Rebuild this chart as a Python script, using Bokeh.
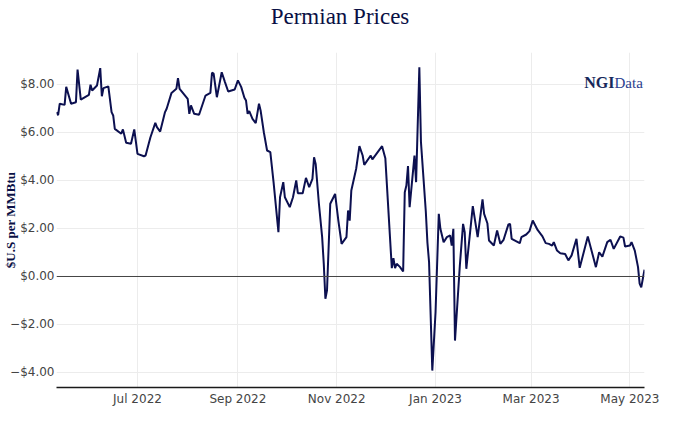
import pandas as pd
from bokeh.plotting import figure
from bokeh.layouts import column
from bokeh.models import Range1d, FixedTicker, DatetimeTickFormatter, Span, Label, ColumnDataSource, Div
from bokeh.embed import file_html
from bokeh.resources import INLINE

dates = [
    "2022-05-12", "2022-05-13", "2022-05-14", "2022-05-17", "2022-05-18", "2022-05-21", "2022-05-24",
    "2022-05-25", "2022-05-27", "2022-06-01", "2022-06-02", "2022-06-03", "2022-06-06", "2022-06-08",
    "2022-06-09", "2022-06-10", "2022-06-13", "2022-06-15", "2022-06-16", "2022-06-17", "2022-06-21",
    "2022-06-22", "2022-06-24", "2022-06-27", "2022-06-29", "2022-07-01", "2022-07-05", "2022-07-06",
    "2022-07-08", "2022-07-09", "2022-07-12", "2022-07-13", "2022-07-15", "2022-07-18", "2022-07-19",
    "2022-07-22", "2022-07-25", "2022-07-26", "2022-07-27", "2022-08-01", "2022-08-02", "2022-08-03",
    "2022-08-05", "2022-08-08", "2022-08-12", "2022-08-15", "2022-08-16", "2022-08-17", "2022-08-19",
    "2022-08-22", "2022-08-24", "2022-08-26", "2022-08-30", "2022-09-01", "2022-09-03", "2022-09-05",
    "2022-09-06", "2022-09-07", "2022-09-08", "2022-09-10", "2022-09-12", "2022-09-14", "2022-09-15",
    "2022-09-17", "2022-09-19", "2022-09-21", "2022-09-23", "2022-09-26", "2022-09-27", "2022-09-29",
    "2022-09-30", "2022-10-03", "2022-10-05", "2022-10-07", "2022-10-08", "2022-10-11", "2022-10-13",
    "2022-10-15", "2022-10-17", "2022-10-18", "2022-10-19", "2022-10-21", "2022-10-23", "2022-10-24",
    "2022-10-25", "2022-10-26", "2022-10-28", "2022-10-31", "2022-11-02", "2022-11-04", "2022-11-07",
    "2022-11-08", "2022-11-09", "2022-11-10", "2022-11-13", "2022-11-15", "2022-11-17", "2022-11-18",
    "2022-11-22", "2022-11-23", "2022-11-29", "2022-12-01", "2022-12-05", "2022-12-06", "2022-12-07",
    "2022-12-08", "2022-12-10", "2022-12-12", "2022-12-13", "2022-12-14", "2022-12-15", "2022-12-16",
    "2022-12-19", "2022-12-20", "2022-12-22", "2022-12-23", "2022-12-26", "2022-12-27", "2022-12-28",
    "2022-12-30", "2023-01-01", "2023-01-03", "2023-01-04", "2023-01-06", "2023-01-08", "2023-01-10",
    "2023-01-11", "2023-01-12", "2023-01-13", "2023-01-16", "2023-01-18", "2023-01-19", "2023-01-20",
    "2023-01-24", "2023-01-27", "2023-01-30", "2023-01-31", "2023-02-02", "2023-02-03", "2023-02-06",
    "2023-02-08", "2023-02-10", "2023-02-12", "2023-02-15", "2023-02-16", "2023-02-17", "2023-02-22",
    "2023-02-23", "2023-02-26", "2023-02-28", "2023-03-02", "2023-03-05", "2023-03-08", "2023-03-10",
    "2023-03-12", "2023-03-14", "2023-03-15", "2023-03-17", "2023-03-19", "2023-03-22", "2023-03-24",
    "2023-03-26", "2023-03-29", "2023-03-31", "2023-04-05", "2023-04-10", "2023-04-12", "2023-04-14",
    "2023-04-17", "2023-04-19", "2023-04-21", "2023-04-25", "2023-04-27", "2023-04-28", "2023-05-01",
    "2023-05-02", "2023-05-04", "2023-05-06", "2023-05-07", "2023-05-08", "2023-05-10",
]
prices = [
    6.85, 6.72, 7.20, 7.15, 7.90, 7.20, 7.26,
    8.62, 7.37, 7.57, 7.99, 7.75, 7.96, 8.68,
    7.51, 7.85, 7.92, 6.85, 6.71, 6.15, 5.95,
    6.13, 5.57, 5.53, 6.13, 5.11, 5.01, 5.04,
    5.55, 5.80, 6.40, 6.22, 6.04, 6.85, 6.99,
    7.65, 7.82, 8.26, 7.82, 7.40, 6.78, 7.13,
    6.78, 6.74, 7.54, 7.65, 8.49, 8.45, 7.47,
    8.51, 8.10, 7.71, 7.79, 8.17, 7.90, 7.45,
    7.33, 6.78, 6.89, 6.57, 6.39, 7.20, 6.92,
    6.01, 5.25, 5.18, 3.93, 1.85, 3.30, 3.93,
    3.30, 2.89, 3.30, 4.00, 3.47, 3.47, 4.11,
    3.72, 4.07, 4.97, 4.69, 3.03, 1.64, 0.53,
    -0.93, -0.58, 3.03, 3.44, 2.33, 1.36, 1.64,
    2.75, 2.33, 3.58, 4.49, 5.43, 5.04, 4.65,
    5.04, 4.88, 5.43, 4.93, 0.35, 0.76, 0.35,
    0.53, 0.40, 0.21, 3.51, 3.79, 4.60, 2.89,
    5.04, 3.93, 8.72, 5.60, 2.70, 1.40, 0.60,
    -3.92, -1.49, 2.61, 1.99, 1.43, 1.64, 1.71,
    1.29, 1.99, -2.67, 0.46, 2.19, 1.85, 0.32,
    2.93, 1.64, 3.21, 2.61, 2.22, 1.50, 1.29,
    1.92, 1.36, 1.53, 2.17, 2.19, 1.57, 1.39,
    1.64, 1.75, 1.89, 2.33, 1.94, 1.67, 1.39,
    1.36, 1.29, 1.43, 1.08, 0.97, 0.94, 0.67,
    0.88, 1.57, 0.36, 1.67, 0.39, 1.01, 0.83,
    1.43, 1.53, 1.15, 1.67, 1.62, 1.25, 1.29,
    1.43, 1.08, 0.39, -0.30, -0.45, 0.28,
]

y_ticks = [-4, -2, 0, 2, 4, 6, 8]
y_tick_labels = ["\u2212$4.00", "\u2212$2.00", "$0.00", "$2.00", "$4.00", "$6.00", "$8.00"]
x_tick_dates = ["2022-07-01", "2022-09-01", "2022-11-01", "2023-01-01", "2023-03-01", "2023-05-01"]

dt = pd.to_datetime(dates)
src = ColumnDataSource(dict(x=dt, y=prices))

navy = "#0c1050"

title_div = Div(
    text="Permian Prices", width=680, height=34, margin=(0, 0, 0, 0),
    styles={"font-family": "'Liberation Serif', serif", "font-size": "23px",
            "color": "#0a1045", "text-align": "center", "line-height": "34px",
            "width": "680px"})

p = figure(width=668, height=377, x_axis_type="datetime", output_backend="svg",
           toolbar_location=None, title=None, margin=(0, 0, 0, 0),
           min_border_left=55, min_border_right=24, min_border_top=18, min_border_bottom=24,
           x_range=Range1d(dt[0], dt[-1]), y_range=Range1d(-4.625, 9.333))
p.outline_line_color = None
p.background_fill_color = "white"
p.border_fill_color = "white"

tick_ms = [pd.Timestamp(d).value / 1e6 for d in x_tick_dates]
p.xaxis.ticker = FixedTicker(ticks=tick_ms)
p.xaxis.formatter = DatetimeTickFormatter(days="%b %Y", months="%b %Y", years="%b %Y")
p.xaxis.major_tick_line_color = None
p.xaxis.minor_tick_line_color = None
p.xaxis.major_tick_out = 0
p.xaxis.major_label_standoff = 4
p.xaxis.axis_line_color = "#1a1a1a"
p.xaxis.axis_line_width = 1.6
p.xaxis.major_label_text_font = "DejaVu Sans"
p.xaxis.major_label_text_font_size = "12px"
p.xaxis.major_label_text_color = "#444444"

p.yaxis.ticker = FixedTicker(ticks=y_ticks)
p.yaxis.major_label_overrides = {t: l for t, l in zip(y_ticks, y_tick_labels)}
p.yaxis.axis_line_color = None
p.yaxis.major_tick_line_color = None
p.yaxis.minor_tick_line_color = None
p.yaxis.major_tick_out = 0
p.yaxis.major_label_standoff = 2
p.yaxis.major_label_text_font = "DejaVu Sans"
p.yaxis.major_label_text_font_size = "12px"
p.yaxis.major_label_text_color = "#444444"
p.yaxis.axis_label = "$U.S per MMBtu"
p.yaxis.axis_label_text_font = "Liberation Serif"
p.yaxis.axis_label_text_font_size = "13px"
p.yaxis.axis_label_text_font_style = "bold"
p.yaxis.axis_label_text_color = "#0a1045"
p.yaxis.axis_label_standoff = -11

p.xgrid.grid_line_color = "#ececec"
p.ygrid.grid_line_color = "#ececec"

p.add_layout(Span(location=0, dimension="width", line_color="#444444", line_width=1))

p.line("x", "y", source=src, line_color=navy, line_width=2)

p.add_layout(Label(x=558, y=305, x_units="screen", y_units="screen", text="NGI",
                   text_font="Liberation Serif", text_font_size="16px", text_font_style="bold",
                   text_color="#16285a", text_align="right", text_baseline="alphabetic"))
p.add_layout(Label(x=558, y=305, x_units="screen", y_units="screen", text="Data",
                   text_font="Liberation Serif", text_font_size="15px",
                   text_color="#2c3e8f", text_align="left", text_baseline="alphabetic"))

layout = column(title_div, p, spacing=0, margin=(0, 0, 0, 0))
open("out.html", "w").write(file_html(layout, INLINE))
